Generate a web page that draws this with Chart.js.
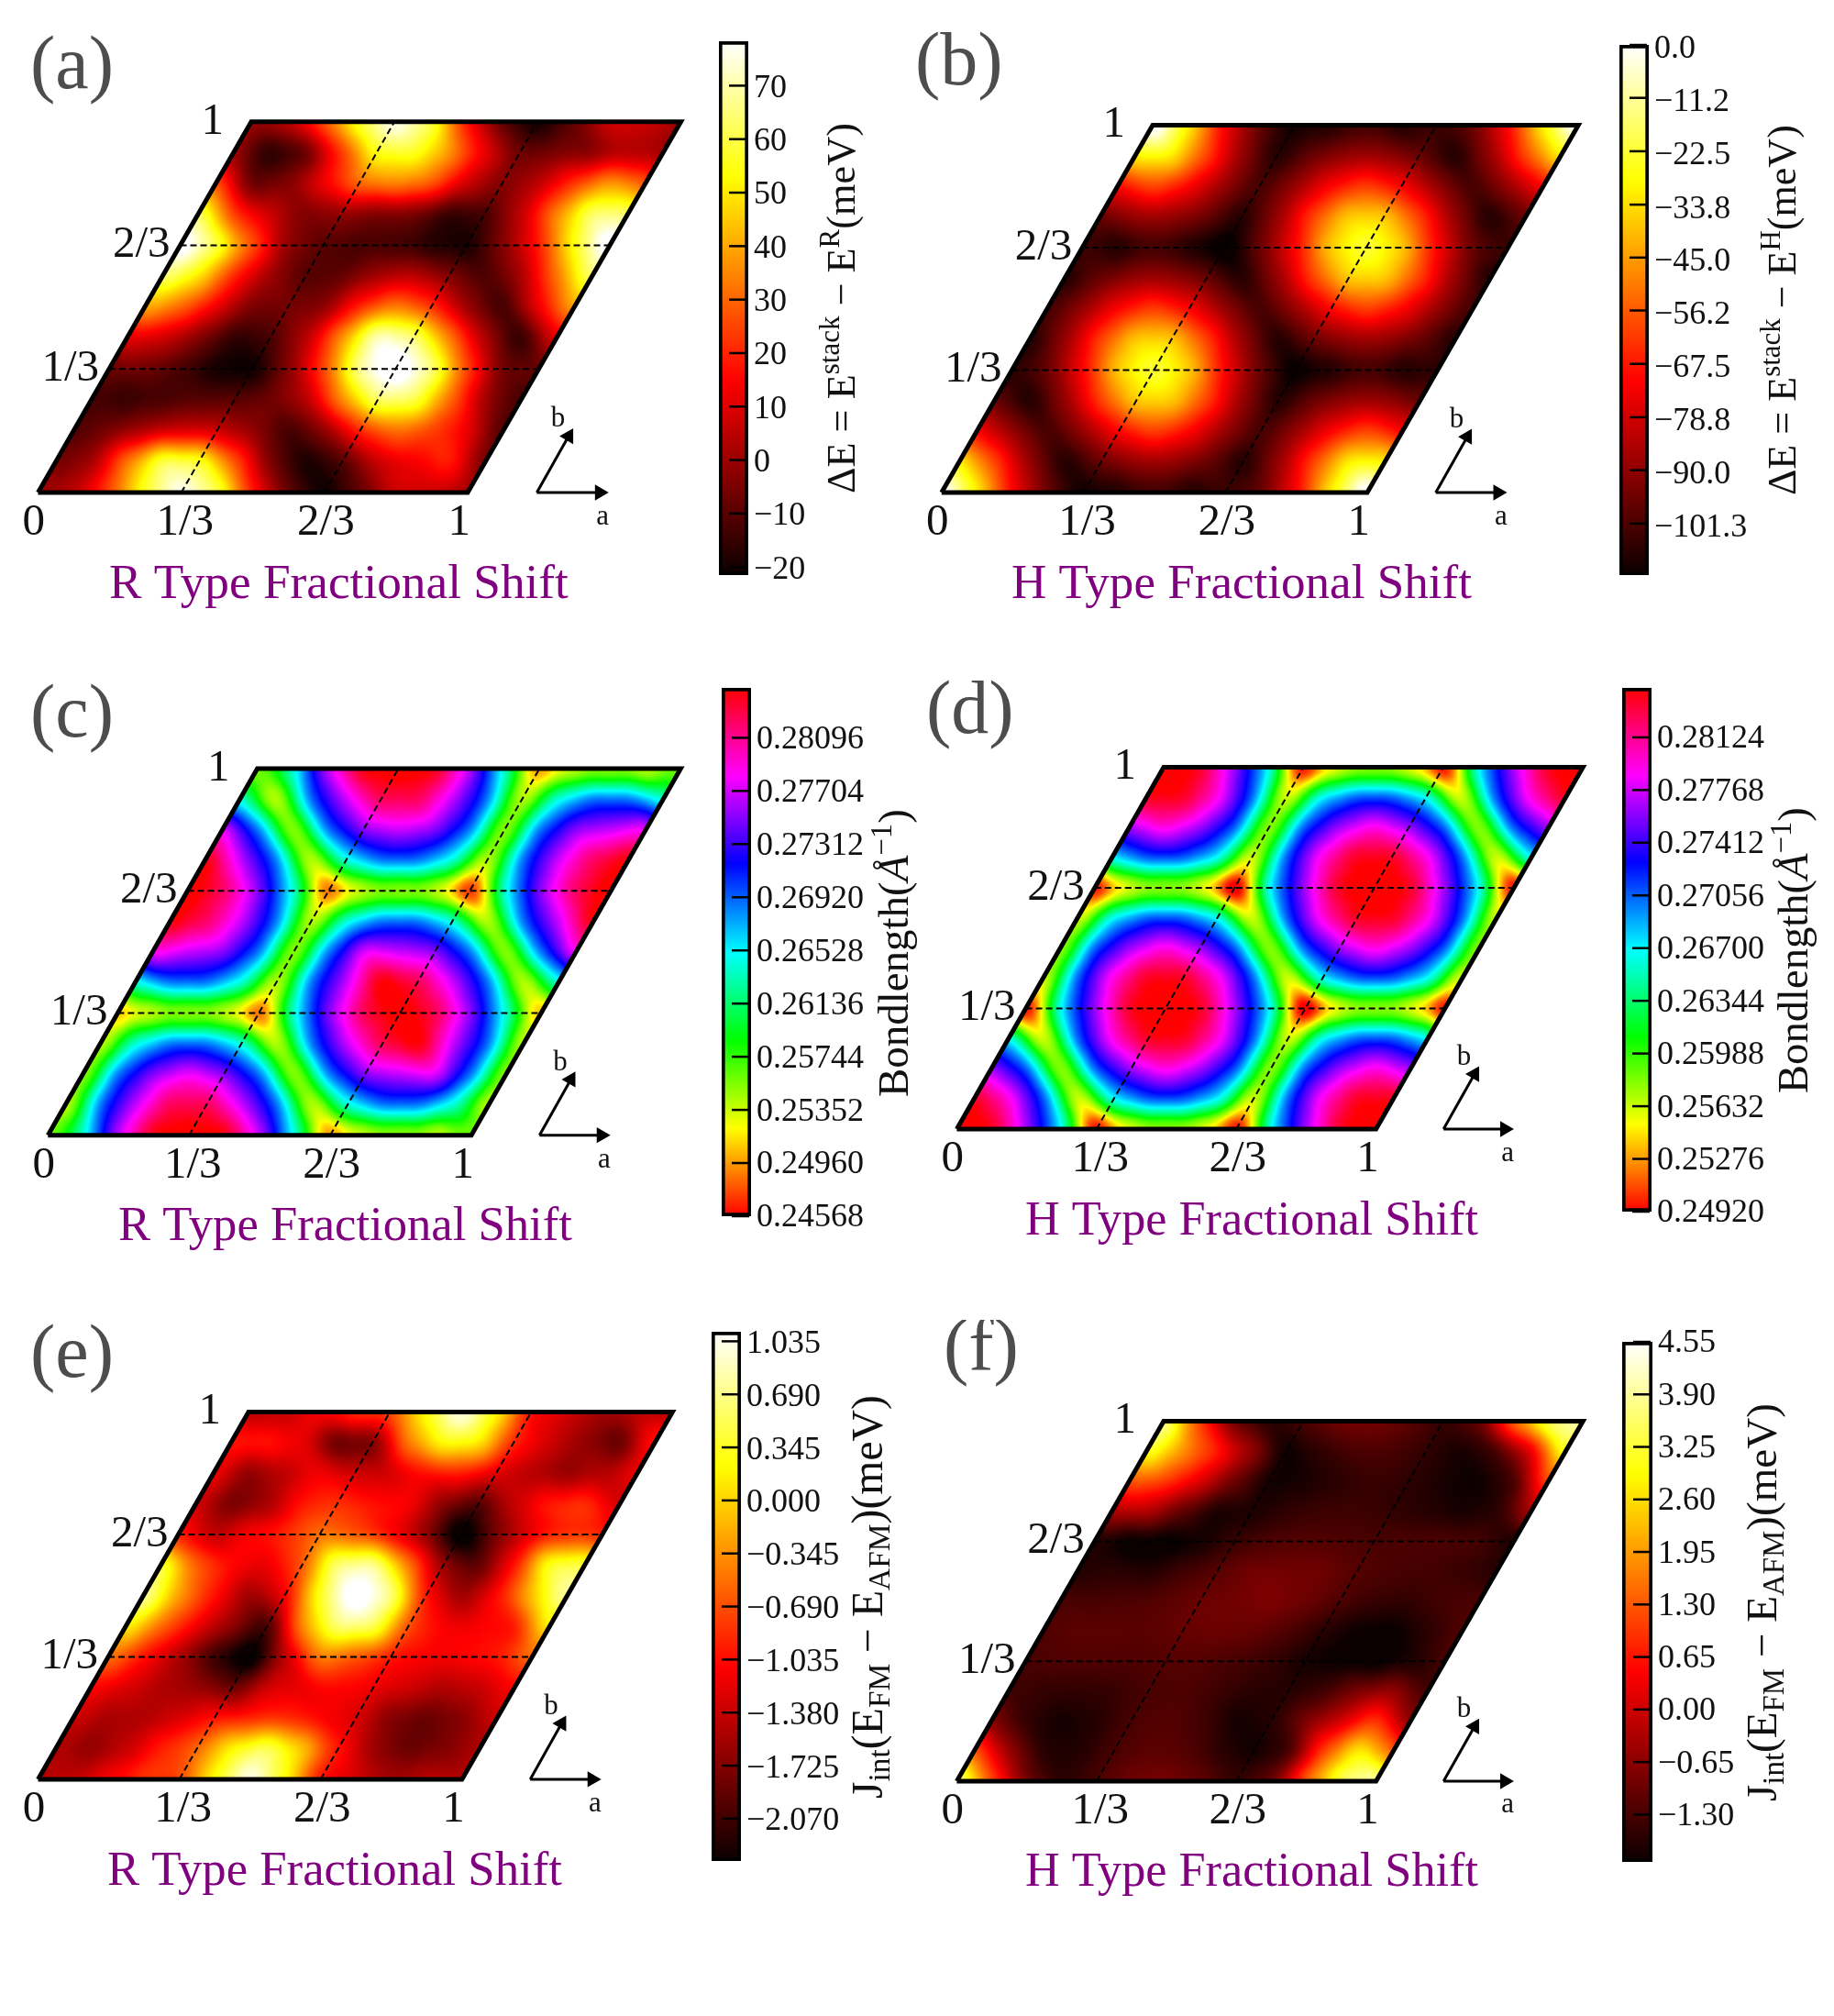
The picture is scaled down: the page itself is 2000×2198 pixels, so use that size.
<!DOCTYPE html>
<html>
<head>
<meta charset="utf-8">
<title>Fractional shift maps</title>
<script src="https://cdn.jsdelivr.net/npm/chart.js@4/dist/chart.umd.js"></script>
<style>
  html, body { margin: 0; padding: 0; background: #fff; }
  body { position: relative; width: 2000px; height: 2198px; overflow: hidden; }
</style>
</head>
<body>
<script>
// values on the fractional shift grid, row = b/12, column = a/12 (the map repeats past 1)
const energyR = [
  [2, 5, 24, 52, 70, 55, 18, -6, -17, -6, 8, 8],
  [-3, 3, 30, 55, 52, 25, -3, -16, -8, 8, 14, 18],
  [-8, -3, 5, 10, 8, 0, -10, 0, 20, 30, 24, 12],
  [-10, -12, -10, -8, -8, -5, 5, 33, 58, 56, 30, 3],
  [-6, -5, -10, -17, -18, -2, 24, 62, 78, 60, 24, -4],
  [10, 8, -2, -13, -10, 5, 34, 66, 60, 32, 4, -12],
  [36, 28, 12, -3, -4, 0, 20, 32, 22, 2, -10, 12],
  [58, 46, 20, 2, -8, -6, 3, 6, -2, -9, 3, 30],
  [75, 55, 25, 0, -8, -10, -10, -14, -16, -2, 18, 50],
  [58, 24, 8, -2, 0, -2, -3, -12, -10, 6, 32, 58],
  [26, -4, -2, 12, 28, 32, 26, 8, -2, 6, 22, 35],
  [2, -13, -5, 22, 50, 52, 35, 12, -5, -3, 0, 6],
];
const energyH = [
  [-6, -36, -72, -95, -108, -105, -100, -105, -102, -95, -72, -36],
  [-36, -62, -88, -105, -95, -88, -88, -95, -105, -88, -62, -36],
  [-72, -88, -100, -88, -72, -63, -72, -88, -100, -88, -72, -62],
  [-95, -105, -88, -63, -42, -42, -63, -88, -105, -95, -88, -88],
  [-104, -95, -72, -42, -28, -42, -72, -95, -110, -105, -100, -105],
  [-105, -88, -63, -42, -42, -63, -88, -105, -95, -88, -88, -95],
  [-100, -88, -72, -63, -72, -88, -100, -88, -72, -63, -72, -88],
  [-105, -95, -88, -88, -95, -105, -88, -63, -42, -42, -63, -88],
  [-102, -105, -100, -105, -112, -95, -72, -42, -28, -42, -72, -95],
  [-95, -88, -88, -95, -105, -88, -63, -42, -42, -63, -88, -105],
  [-72, -62, -72, -88, -100, -88, -72, -63, -72, -88, -100, -88],
  [-36, -36, -62, -88, -105, -95, -88, -88, -95, -105, -88, -62],
];
const bondR = [
  [.2572, .2645, .2757, .2826, .2840, .2826, .2757, .2645, .2515, .2555, .2565, .2555],
  [.2555, .2685, .2760, .2810, .2810, .2760, .2685, .2555, .2645, .2685, .2685, .2645],
  [.2565, .2685, .2745, .2768, .2745, .2685, .2565, .2685, .2745, .2760, .2765, .2685],
  [.2555, .2645, .2685, .2685, .2645, .2555, .2685, .2760, .2812, .2830, .2760, .2685],
  [.2525, .2555, .2565, .2555, .2505, .2645, .2745, .2812, .2840, .2812, .2745, .2645],
  [.2645, .2685, .2685, .2645, .2555, .2685, .2760, .2830, .2812, .2760, .2685, .2555],
  [.2772, .2760, .2745, .2685, .2565, .2685, .2765, .2760, .2745, .2685, .2565, .2685],
  [.2828, .2808, .2760, .2685, .2555, .2645, .2685, .2685, .2645, .2555, .2685, .2760],
  [.2840, .2808, .2745, .2645, .2505, .2555, .2565, .2555, .2490, .2645, .2745, .2808],
  [.2828, .2760, .2685, .2555, .2645, .2685, .2685, .2645, .2555, .2685, .2760, .2808],
  [.2768, .2685, .2565, .2685, .2745, .2760, .2745, .2685, .2565, .2685, .2745, .2760],
  [.2645, .2555, .2685, .2760, .2810, .2810, .2760, .2685, .2555, .2645, .2685, .2685],
];
const bondH = [
  [.2846, .2825, .2760, .2669, .2515, .2575, .2590, .2575, .2515, .2669, .2760, .2825],
  [.2825, .2783, .2705, .2575, .2669, .2705, .2705, .2669, .2575, .2705, .2783, .2825],
  [.2760, .2705, .2590, .2705, .2760, .2783, .2760, .2705, .2590, .2705, .2760, .2783],
  [.2669, .2575, .2705, .2783, .2825, .2825, .2783, .2705, .2575, .2669, .2705, .2705],
  [.2515, .2669, .2760, .2825, .2846, .2825, .2760, .2669, .2505, .2575, .2590, .2575],
  [.2575, .2705, .2783, .2825, .2825, .2783, .2705, .2575, .2669, .2705, .2705, .2669],
  [.2590, .2705, .2760, .2783, .2760, .2705, .2590, .2705, .2760, .2783, .2760, .2705],
  [.2575, .2669, .2705, .2705, .2669, .2575, .2705, .2783, .2825, .2825, .2783, .2705],
  [.2515, .2575, .2590, .2575, .2505, .2669, .2760, .2825, .2846, .2825, .2760, .2669],
  [.2669, .2705, .2705, .2669, .2575, .2705, .2783, .2825, .2825, .2783, .2705, .2575],
  [.2760, .2783, .2760, .2705, .2590, .2705, .2760, .2783, .2760, .2705, .2590, .2705],
  [.2825, .2825, .2783, .2705, .2575, .2669, .2705, .2705, .2669, .2575, .2705, .2783],
];
const jintR = [
  [-1.45, -1.4, -1.15, -.9, -.75, .1, .8, .1, -1.0, -1.3, -1.55, -1.45],
  [-1.5, -1.6, -1.35, -.95, -.6, .05, .35, -.2, -1.0, -1.55, -1.8, -1.7],
  [-1.35, -1.5, -1.45, -1.25, -1.0, -.9, -.85, -1.05, -1.25, -1.65, -1.8, -1.65],
  [-1.1, -1.25, -1.45, -1.55, -1.75, -1.3, -1.15, -1.05, -1.15, -1.3, -1.45, -1.35],
  [-.6, -1.0, -1.45, -1.95, -2.3, -1.35, -.5, -.65, -.95, -1.1, -1.1, -1.0],
  [0, -.6, -1.15, -1.6, -1.9, -.45, .45, .35, -.7, -1.1, -1.1, -.95],
  [.55, -.35, -1.0, -1.5, -1.1, .2, 1.05, .5, -.95, -1.5, -1.05, -.2],
  [.25, -.65, -1.05, -1.15, -.65, .45, .55, -.5, -1.55, -1.8, -1.0, .15],
  [-.95, -1.35, -1.1, -.9, -.55, -.65, -1.0, -1.55, -2.3, -1.7, -1.15, -.85],
  [-1.3, -1.7, -1.5, -1.0, -.85, -1.0, -1.1, -1.6, -1.85, -1.35, -1.0, -.9],
  [-1.2, -1.6, -1.4, -1.15, -1.3, -1.25, -1.0, -.95, -1.2, -1.4, -1.55, -1.45],
  [-1.05, -1.05, -1.2, -1.75, -1.65, -.55, .1, 0, -.9, -1.3, -1.6, -1.8],
];
const jintH = [
  [3.4, 1.0, -.8, -1.5, -1.3, -1.0, -.95, -1.15, -1.45, -1.0, 1.1, 3.0],
  [1.2, -.5, -1.5, -1.6, -1.3, -1.15, -1.2, -1.5, -1.7, -1.2, .9, 2.4],
  [-.6, -1.4, -1.7, -1.6, -1.3, -1.2, -1.35, -1.7, -1.55, -.8, 0, .8],
  [-1.3, -1.45, -1.5, -1.45, -1.3, -1.25, -1.4, -1.55, -1.55, -1.3, -.8, -.6],
  [-1.3, -1.25, -1.25, -1.25, -1.2, -1.2, -1.3, -1.45, -1.7, -1.8, -1.85, -1.65],
  [-1.25, -1.15, -1.15, -1.15, -1.05, -1.0, -1.05, -1.25, -1.55, -1.8, -1.85, -1.55],
  [-1.3, -1.3, -1.25, -1.15, -1.0, -.95, -.85, -1.0, -1.25, -1.45, -1.5, -1.35],
  [-1.6, -1.55, -1.6, -1.35, -1.15, -.95, -.95, -1.0, -1.2, -1.3, -1.35, -1.45],
  [-1.6, -1.8, -1.85, -1.7, -1.4, -1.25, -1.2, -1.25, -1.3, -1.3, -1.3, -1.35],
  [-.4, -.3, -1.0, -1.6, -1.65, -1.5, -1.4, -1.4, -1.5, -1.6, -1.7, -1.5],
  [1.0, .9, .1, -.9, -1.7, -1.7, -1.55, -1.45, -1.55, -1.7, -1.75, -1.2],
  [2.7, 1.7, .6, -.6, -1.75, -1.5, -1.3, -1.3, -1.5, -1.65, -1.2, .2],
];

// colour bar ticks
const ticksA = [70, 60, 50, 40, 30, 20, 10, 0, -10, -20];
const labelsA = ['70', '60', '50', '40', '30', '20', '10', '0', '−10', '−20'];
const ticksB = [0, -11.2, -22.5, -33.8, -45, -56.2, -67.5, -78.8, -90, -101.3];
const labelsB = ['0.0', '−11.2', '−22.5', '−33.8', '−45.0', '−56.2', '−67.5', '−78.8', '−90.0', '−101.3'];
const ticksC = [.28096, .27704, .27312, .2692, .26528, .26136, .25744, .25352, .2496, .24568];
const labelsC = ['0.28096', '0.27704', '0.27312', '0.26920', '0.26528', '0.26136', '0.25744', '0.25352', '0.24960', '0.24568'];
const ticksD = [.28124, .27768, .27412, .27056, .267, .26344, .25988, .25632, .25276, .2492];
const labelsD = ['0.28124', '0.27768', '0.27412', '0.27056', '0.26700', '0.26344', '0.25988', '0.25632', '0.25276', '0.24920'];
const ticksE = [1.035, .69, .345, 0, -.345, -.69, -1.035, -1.38, -1.725, -2.07];
const labelsE = ['1.035', '0.690', '0.345', '0.000', '−0.345', '−0.690', '−1.035', '−1.380', '−1.725', '−2.070'];
const ticksF = [4.55, 3.9, 3.25, 2.6, 1.95, 1.3, .65, 0, -.65, -1.3];
const labelsF = ['4.55', '3.90', '3.25', '2.60', '1.95', '1.30', '0.65', '0.00', '−0.65', '−1.30'];

// fractional shift axes
const shiftLabelsA = ['0', '1/3', '2/3', '1'];
const shiftAnchorsA = [-0.01, 0.342, 0.67, 0.98];
const shiftLabelsB = ['1/3', '2/3', '1'];
const shiftValuesB = [1 / 3, 2 / 3, 1];
const guideFractions = [1 / 3, 2 / 3];

const SERIF = '"Liberation Serif"';

const titleEnergyR = [{ t: 'ΔE = E' }, { t: 'stack', sup: true }, { t: ' − E' }, { t: 'R', sup: true }, { t: '(meV)' }];
const titleEnergyH = [{ t: 'ΔE = E' }, { t: 'stack', sup: true }, { t: ' − E' }, { t: 'H', sup: true }, { t: '(meV)' }];
const titleBond = [{ t: 'Bondlength(' }, { t: 'Å', it: true }, { t: '−1', sup: true }, { t: ')' }];
const titleJint = [{ t: 'J' }, { t: 'int', sub: true }, { t: '(E' }, { t: 'FM', sub: true }, { t: ' − E' }, { t: 'AFM', sub: true }, { t: ')(meV)' }];

const panels = [
  { letter: '(a)', letterAt: [33, 96], shift: 'R Type Fractional Shift', shiftAt: [369.5, 652, 501],
    grid: energyR, cmap: hot, range: [-21.5, 78.3], ticks: ticksA, labels: labelsA, labelOffset: 3,
    bl: [41.5, 537], br: [510, 537], tl: [274, 132.7], bar: [784, 816, 45, 627],
    title: titleEnergyR, titleAt: [932, 336, 404] },
  { letter: '(b)', letterAt: [998, 92], shift: 'H Type Fractional Shift', shiftAt: [1354, 652, 502],
    grid: energyH, cmap: hot, range: [-112.2, 0], ticks: ticksB, labels: labelsB, labelOffset: 5,
    bl: [1026.8, 537], br: [1491, 537], tl: [1257, 136.6], bar: [1766, 1798, 49, 627],
    title: titleEnergyH, titleAt: [1958, 338, 404] },
  { letter: '(c)', letterAt: [33, 803], shift: 'R Type Fractional Shift', shiftAt: [376.5, 1352, 495],
    grid: bondR, cmap: hsv, range: [.24568, .28464], ticks: ticksC, labels: labelsC, labelOffset: 2,
    bl: [52.3, 1237.7], br: [514, 1237.7], tl: [280.6, 837.9], bar: [787, 819, 750, 1326],
    title: titleBond, titleAt: [990, 1039, 314] },
  { letter: '(d)', letterAt: [1010, 799], shift: 'H Type Fractional Shift', shiftAt: [1365, 1346, 494],
    grid: bondH, cmap: hsv, range: [.2492, .28458], ticks: ticksD, labels: labelsD, labelOffset: 2,
    bl: [1043.4, 1231], br: [1500.6, 1231], tl: [1269, 836.6], bar: [1769, 1801, 750, 1321],
    title: titleBond, titleAt: [1971, 1036, 312] },
  { letter: '(e)', letterAt: [33, 1501], shift: 'R Type Fractional Shift', shiftAt: [365, 2055, 496],
    grid: jintR, cmap: hot, range: [-2.345, 1.097], ticks: ticksE, labels: labelsE, labelOffset: 3,
    bl: [41.5, 1939.9], br: [503.8, 1939.9], tl: [271, 1539.6], bar: [776, 808, 1452, 2029],
    title: titleJint, titleAt: [962, 1741, 440] },
  { letter: '(f)', letterAt: [1029, 1494], shift: 'H Type Fractional Shift', shiftAt: [1365, 2056, 494],
    grid: jintH, cmap: hot, range: [-1.886, 4.55], ticks: ticksF, labels: labelsF, labelOffset: 2,
    bl: [1043.4, 1942], br: [1500.6, 1942], tl: [1269, 1549.6], bar: [1769, 1802, 1463, 2030],
    title: titleJint, titleAt: [1937, 1747, 434] },
];

function hot(f) {
  return [
    Math.min(1, 0.0416 + (f / 0.365) * 0.9584),
    Math.min(1, Math.max(0, (f - 0.365) / 0.381)),
    Math.min(1, Math.max(0, (f - 0.746) / 0.254)),
  ];
}

function hsv(f) {
  const h = f * 6;
  const x = 1 - Math.abs((h % 2) - 1);
  if (h < 1) return [1, x, 0];
  if (h < 2) return [x, 1, 0];
  if (h < 3) return [0, 1, x];
  if (h < 4) return [0, x, 1];
  if (h < 5) return [x, 0, 1];
  return [1, 0, x];
}

function cssColor(rgb) {
  return `rgb(${rgb.map((c) => Math.round(c * 255)).join(',')})`;
}

function addCanvas(left, top, width, height) {
  const el = document.createElement('canvas');
  el.width = width;
  el.height = height;
  el.style.cssText = `position:absolute;left:${left}px;top:${top}px;width:${width}px;height:${height}px`;
  document.body.appendChild(el);
  return el;
}

// text made of runs with sub/superscripts, scaled so it spans `length` px
function drawRuns(ctx, runs, x, y, length, rotate) {
  const fontFor = (run, size) => {
    const s = run.sup || run.sub ? size * 0.7 : size;
    return `${run.it ? 'italic ' : ''}${s}px ${SERIF}`;
  };
  const total = (size) => runs.reduce((sum, run) => {
    ctx.font = fontFor(run, size);
    return sum + ctx.measureText(run.t).width;
  }, 0);
  const size = (100 * length) / total(100);
  ctx.save();
  ctx.translate(x, y);
  if (rotate) ctx.rotate(-Math.PI / 2);
  ctx.textAlign = 'left';
  ctx.textBaseline = 'alphabetic';
  let pos = -length / 2;
  runs.forEach((run) => {
    ctx.font = fontFor(run, size);
    const shift = run.sup ? -0.38 * size : run.sub ? 0.16 * size : 0;
    ctx.fillText(run.t, pos, shift);
    pos += ctx.measureText(run.t).width;
  });
  ctx.restore();
}

// smooth shading between grid nodes: the nodes sit on a 60 degree lattice, so the
// weight depends on the real distance and is zero on the nearest neighbour rings
const KERNEL_SIZE = 4096;
const kernel = new Float64Array(KERNEL_SIZE + 1);
for (let i = 0; i <= KERNEL_SIZE; i++) {
  const r2 = (i / KERNEL_SIZE) * 9;
  kernel[i] = (1 - r2) * (1 - r2 / 3) * (1 - r2 / 4) * Math.exp(-r2);
}

function sampleGrid(grid, u, v) {
  const n = grid.length;
  const fu = u * n;
  const fv = v * n;
  const i0 = Math.round(fu);
  const k0 = Math.round(fv);
  let sum = 0;
  let norm = 0;
  for (let dk = -3; dk <= 3; dk++) {
    const dv = fv - k0 - dk;
    const row = grid[(k0 + dk + n * 2) % n];
    for (let di = -3; di <= 3; di++) {
      const du = fu - i0 - di;
      const r2 = du * du + dv * dv + du * dv;
      if (r2 >= 9) continue;
      const w = kernel[Math.round((r2 / 9) * KERNEL_SIZE)];
      sum += w * row[(i0 + di + n * 2) % n];
      norm += w;
    }
  }
  return sum / norm;
}

const heatPlugin = {
  id: 'heat',
  beforeDatasetsDraw(chart, args, opts) {
    const p = opts.panel;
    const { x: xs, y: ys } = chart.scales;
    const area = chart.chartArea;
    const left = Math.floor(area.left);
    const top = Math.floor(ys.getPixelForValue(1)) - 1;
    const w = Math.ceil(area.right) - left;
    const h = Math.ceil(ys.getPixelForValue(0)) + 2 - top;
    const off = document.createElement('canvas');
    off.width = w;
    off.height = h;
    const offCtx = off.getContext('2d');
    const img = offCtx.createImageData(w, h);
    const xVals = [];
    for (let c = 0; c < w; c++) xVals.push(xs.getValueForPixel(left + c + 0.5));
    for (let r = 0; r < h; r++) {
      const v = ys.getValueForPixel(top + r + 0.5);
      for (let c = 0; c < w; c++) {
        const u = xVals[c] - opts.skew * v;
        if (u < -0.02 || u > 1.02) continue;
        const val = sampleGrid(p.grid, u, v);
        const f = Math.min(1, Math.max(0, (val - p.range[0]) / (p.range[1] - p.range[0])));
        const rgb = p.cmap(f);
        const o = (r * w + c) * 4;
        img.data[o] = rgb[0] * 255;
        img.data[o + 1] = rgb[1] * 255;
        img.data[o + 2] = rgb[2] * 255;
        img.data[o + 3] = 255;
      }
    }
    offCtx.putImageData(img, 0, 0);
    const ctx = chart.ctx;
    ctx.save();
    ctx.beginPath();
    [[0, 0], [1, 0], [1 + opts.skew, 1], [opts.skew, 1]].forEach(([a, b], i) => {
      const px = xs.getPixelForValue(a);
      const py = ys.getPixelForValue(b);
      if (i) ctx.lineTo(px, py);
      else ctx.moveTo(px, py);
    });
    ctx.closePath();
    ctx.clip();
    ctx.drawImage(off, left, top);
    ctx.restore();
  },
  afterDatasetsDraw(chart, args, opts) {
    const p = opts.panel;
    const { x: xs, y: ys } = chart.scales;
    const ctx = chart.ctx;
    ctx.save();
    ctx.fillStyle = '#111';
    ctx.font = `49px ${SERIF}`;
    ctx.textAlign = 'right';
    ctx.textBaseline = 'middle';
    shiftValuesB.forEach((v, i) => {
      const gap = shiftLabelsB[i] === '1' ? 30 : 11;
      ctx.fillText(shiftLabelsB[i], xs.getPixelForValue(opts.skew * v) - gap, ys.getPixelForValue(v));
    });
    ctx.font = `31px ${SERIF}`;
    ctx.textAlign = 'center';
    ctx.fillText('b', xs.getPixelForValue(1.21), ys.getPixelForValue(0.198));
    ctx.fillText('a', xs.getPixelForValue(1.314), ys.getPixelForValue(-0.067));
    ctx.translate(-chart.canvas.offsetLeft, -chart.canvas.offsetTop);
    ctx.textAlign = 'left';
    ctx.textBaseline = 'alphabetic';
    ctx.fillStyle = '#4d4d4d';
    ctx.font = `82px ${SERIF}`;
    ctx.fillText(p.letter, p.letterAt[0], p.letterAt[1]);
    ctx.fillStyle = '#800080';
    drawRuns(ctx, [{ t: p.shift }], p.shiftAt[0], p.shiftAt[1], p.shiftAt[2], false);
    ctx.restore();
  },
};

function heatChart(p) {
  const w = p.br[0] - p.bl[0];
  const h = p.bl[1] - p.tl[1];
  const skew = (p.tl[0] - p.bl[0]) / w;
  const xMin = -0.05;
  const xMax = 1 + skew + 0.05;
  const areaLeft = p.bl[0] + xMin * w;
  const areaW = (xMax - xMin) * w;
  const cx = Math.floor(areaLeft - 15);
  const cy = Math.floor(p.tl[1] - 110);
  const padL = areaLeft - cx;
  const padT = p.tl[1] - cy;
  const cw = Math.ceil(padL + areaW + 10);
  const ch = Math.ceil(padT + h + 130);
  const axisH = ch - padT - h;
  const nodes = p.grid.flatMap((row, k) => row.map((value, j) => ({
    x: j / row.length + (skew * k) / p.grid.length,
    y: k / p.grid.length,
    value,
  })));
  const outline = [[0, 0], [1, 0], [1, 1], [0, 1], [0, 0]].map(([a, b]) => ({ x: a + skew * b, y: b }));
  const line = (data) => ({
    data,
    showLine: true,
    clip: false,
    pointRadius: 0,
    borderColor: '#000',
    borderWidth: 2,
    borderDash: [7, 4],
  });
  const guides = guideFractions.flatMap((g) => [
    line([{ x: g, y: 0 }, { x: g + skew, y: 1 }]),
    line([{ x: skew * g, y: g }, { x: 1 + skew * g, y: g }]),
  ]);
  const arrow = (tip, rotation) => ({
    data: [{ x: 1.161, y: 0 }, tip],
    showLine: true,
    clip: false,
    borderColor: '#000',
    borderWidth: 3,
    pointStyle: 'triangle',
    pointRadius: [0, 7],
    pointRotation: [0, rotation],
    pointBackgroundColor: '#000',
    pointBorderColor: '#000',
  });
  return new Chart(addCanvas(cx, cy, cw, ch), {
    type: 'scatter',
    data: {
      datasets: [
        { data: nodes, pointRadius: 0 },
        {
          data: outline,
          showLine: true,
          clip: false,
          pointRadius: 0,
          borderColor: '#000',
          borderWidth: 5,
          borderJoinStyle: 'miter',
        },
        ...guides,
        arrow({ x: 1.307, y: 0 }, 90),
        arrow({ x: 1.235, y: 0.152 }, 30),
      ],
    },
    plugins: [heatPlugin],
    options: {
      responsive: false,
      animation: false,
      devicePixelRatio: 1,
      events: [],
      layout: { padding: { left: padL, right: cw - padL - areaW, top: padT, bottom: 0 } },
      plugins: {
        legend: { display: false },
        tooltip: { enabled: false },
        heat: { panel: p, skew },
      },
      scales: {
        x: {
          type: 'linear',
          min: xMin,
          max: xMax,
          grid: { display: false },
          border: { display: false },
          afterBuildTicks: (axis) => { axis.ticks = shiftAnchorsA.map((value) => ({ value })); },
          afterFit: (axis) => { axis.height = axisH; },
          ticks: {
            autoSkip: false,
            maxRotation: 0,
            padding: -4,
            color: '#111',
            font: { family: SERIF, size: 49 },
            callback: (value, i) => shiftLabelsA[i],
          },
        },
        y: { type: 'linear', min: 0, max: 1, display: false },
      },
    },
  });
}

const barPlugin = {
  id: 'barTicks',
  afterDraw(chart, args, opts) {
    const p = opts.panel;
    const ctx = chart.ctx;
    const right = chart.chartArea.right;
    ctx.save();
    ctx.strokeStyle = '#000';
    ctx.lineWidth = 2.5;
    p.ticks.forEach((tick) => {
      const py = chart.scales.y.getPixelForValue(tick);
      ctx.beginPath();
      ctx.moveTo(right - 21, py);
      ctx.lineTo(right - 2, py);
      ctx.stroke();
    });
    ctx.translate(-chart.canvas.offsetLeft, -chart.canvas.offsetTop);
    ctx.fillStyle = '#111';
    drawRuns(ctx, p.title, p.titleAt[0], p.titleAt[1], p.titleAt[2], true);
    ctx.restore();
  },
};

function barChart(p) {
  const [x0, x1, y0, y1] = p.bar;
  const cx = x0 - 4;
  const cy = y0 - 30;
  const cw = Math.min(2000 - cx, p.titleAt[0] + 50 - cx);
  const ch = y1 - y0 + 60;
  return new Chart(addCanvas(cx, cy, cw, ch), {
    type: 'bar',
    data: {
      labels: [''],
      datasets: [{
        data: [p.range],
        barPercentage: 1,
        categoryPercentage: 1,
        borderColor: '#000',
        borderWidth: 4,
        borderSkipped: false,
        backgroundColor: (c) => {
          const area = c.chart.chartArea;
          if (!area) return '#000';
          const g = c.chart.ctx.createLinearGradient(0, area.bottom, 0, area.top);
          for (let i = 0; i <= 60; i++) g.addColorStop(i / 60, cssColor(p.cmap(i / 60)));
          return g;
        },
      }],
    },
    plugins: [barPlugin],
    options: {
      responsive: false,
      animation: false,
      devicePixelRatio: 1,
      events: [],
      layout: { padding: { left: 4, right: 0, top: 30, bottom: 30 } },
      plugins: {
        legend: { display: false },
        tooltip: { enabled: false },
        barTicks: { panel: p },
      },
      scales: {
        x: { display: false },
        y: {
          position: 'right',
          min: p.range[0],
          max: p.range[1],
          grid: { display: false },
          border: { display: false },
          afterBuildTicks: (axis) => { axis.ticks = p.ticks.map((value) => ({ value })); },
          afterFit: (axis) => { axis.width = cw - 4 - (x1 - x0); },
          ticks: {
            autoSkip: false,
            padding: -2,
            labelOffset: p.labelOffset,
            color: '#111',
            font: { family: SERIF, size: 36 },
            callback: (value, i) => p.labels[i],
          },
        },
      },
    },
  });
}

panels.forEach((p) => {
  heatChart(p);
  barChart(p);
});
</script>
</body>
</html>
